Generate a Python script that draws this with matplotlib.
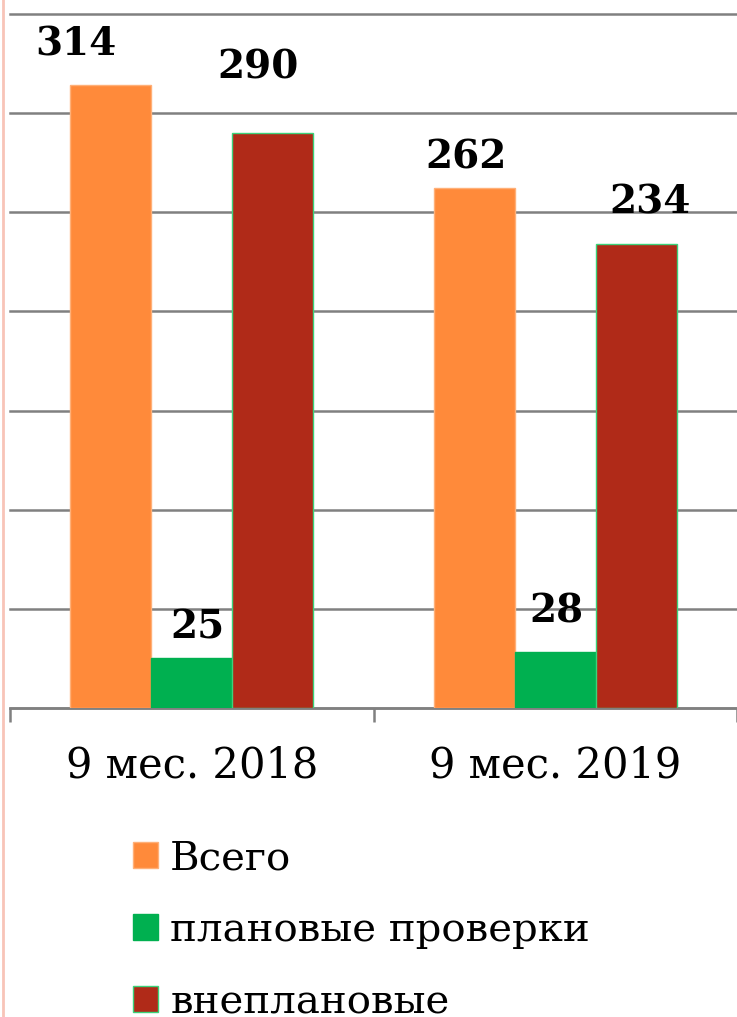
import matplotlib.pyplot as plt
from matplotlib.lines import Line2D
import numpy as np

# data
periods = ['9 мес. 2018', '9 мес. 2019']
series = ['Всего', 'плановые проверки', 'внеплановые']
total = [314, 262]
planned = [25, 28]
unplanned = [290, 234]

colors = ['#FF8A3A', '#00B050', '#B02A18']
edges = ['#FFB078', '#00B050', '#3CD27A']

plt.rcParams['font.family'] = ['DejaVu Serif']

fig = plt.figure(figsize=(7.37, 10.17), dpi=100)
ax = fig.add_axes([10 / 737, 1 - 708 / 1017, 1 - 10 / 737, (708 - 14) / 1017])

x = np.arange(len(periods)) + 0.5
w = 0.223
values = [total, planned, unplanned]
# label offsets in pixels (dx, dy) per series and group
offs = [[(-35, 22), (-8, 12)],
        [(6, 12), (1, 22)],
        [(-15, 46), (14, 23)]]

for i, (vals, name) in enumerate(zip(values, series)):
    bars = ax.bar(x + (i - 1) * w, vals, w, color=colors[i], edgecolor=edges[i],
                  linewidth=1, label=name, zorder=3)
    for j, b in enumerate(bars):
        dx, dy = offs[i][j]
        ax.annotate(str(vals[j]), (b.get_x() + b.get_width() / 2, b.get_height()),
                    xytext=(dx * 0.72, dy * 0.72), textcoords='offset points',
                    ha='center', va='bottom', fontsize=28, fontweight='bold', zorder=4)

ax.set_xlim(0, 2)
ax.set_ylim(0, 350)
ax.set_yticks(np.arange(0, 351, 50))
ax.yaxis.grid(True, color='#808080', linewidth=1.8, zorder=0)
for gl in ax.get_ygridlines():
    gl.set_clip_on(False)
ax.tick_params(axis='y', length=0, labelleft=False)

ax.set_xticks(x)
ax.set_xticklabels(periods, fontsize=30)
ax.set_xticks([0, 1, 2], minor=True)
ax.tick_params(axis='x', which='major', length=0, pad=26)
ax.tick_params(axis='x', which='minor', length=10, width=1.8, color='#808080', direction='out')

for s in ['top', 'right', 'left']:
    ax.spines[s].set_visible(False)
ax.spines['bottom'].set_color('#808080')
ax.spines['bottom'].set_linewidth(1.8)
ax.set_axisbelow(True)

leg = fig.legend(loc='upper left', bbox_to_anchor=(113 / 737, 1 - 820 / 1017),
                 fontsize=29, frameon=False, handlelength=0.62, handleheight=0.62,
                 handletextpad=0.3, labelspacing=0.87, borderpad=0)

fig.add_artist(Line2D([3 / 737, 3 / 737], [0, 1], color='#F8C4B8', linewidth=2))

fig.savefig('out.png', dpi=100)
